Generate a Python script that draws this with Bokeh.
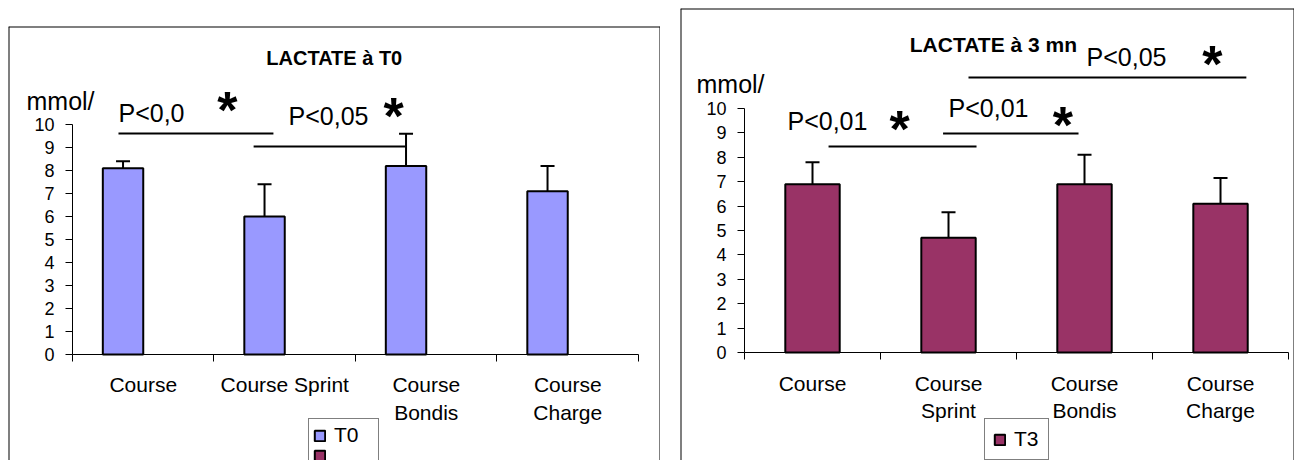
from bokeh.plotting import figure
from bokeh.models import (ColumnDataSource, Whisker, TeeHead, Label, Legend, LegendItem,
                          FixedTicker, Range1d, Spacer, Span)
from bokeh.layouts import row, column
from bokeh.embed import file_html
from bokeh.resources import INLINE

# ---------------- data ----------------
categories = ["Course", "Course Sprint", "Course Bondis", "Course Charge"]
tick_labels_t0 = ["Course", "Course Sprint", "Course\nBondis", "Course\nCharge"]
tick_labels_t3 = ["Course", "Course\nSprint", "Course\nBondis", "Course\nCharge"]
t0_mean = [8.1, 6.0, 8.2, 7.1]
t0_upper = [8.4, 7.4, 9.6, 8.2]
t0_chart_t3_mean = [float("nan")] * 4   # empty second series of the T0 chart
t3_mean = [6.9, 4.7, 6.9, 6.1]
t3_upper = [7.8, 5.75, 8.1, 7.15]
y_ticks = list(range(0, 11))

# significance annotations: (text, text_x, text_y, star_x, star_y, x0, x1, line_y)
t0_sig = [
    ("P<0,0", 0.325, 10.48, 1.095, 10.65, 0.325, 1.42, 9.61),
    ("P<0,05", 1.527, 10.35, 2.27, 10.39, 1.28, 2.35, 9.04),
]
t3_sig = [
    ("P<0,01", 0.316, 9.47, 1.14, 9.14, 0.618, 1.706, 8.44),
    ("P<0,01", 1.50, 10.0, 2.34, 9.34, 1.46, 2.456, 8.98),
    ("P<0,05", 2.515, 12.09, 3.44, 11.82, 1.647, 3.69, 11.27),
]

FONT = "Liberation Sans"
C_T0 = "#9999FF"
C_T3 = "#993366"


def build(width, height, xr, yr, means, uppers, labels, color, bar_w, offset,
          title, title_size, title_xy, unit_xy, sig, legend_items, legend_loc,
          legend_pad, legend_label_w, legend_spacing):
    p = figure(width=width, height=height, x_range=Range1d(*xr), y_range=Range1d(*yr),
               output_backend="svg", toolbar_location=None,
               min_border_left=0, min_border_right=0, min_border_top=0,
               min_border_bottom=0)
    p.xgrid.visible = False
    p.ygrid.visible = False
    p.outline_line_color = None
    p.background_fill_color = "white"
    p.border_fill_color = "white"

    # panel border (left, right, top edges of the chart area)
    for loc, dim in ((xr[0], "height"), (xr[1], "height"), (yr[1], "width")):
        p.add_layout(Span(location=loc, dimension=dim, line_color="black", line_width=2))

    xs = [i + 0.5 + offset for i in range(len(categories))]
    src = ColumnDataSource(dict(x=xs, top=means, upper=uppers, cat=categories))
    r = p.vbar(x="x", top="top", width=bar_w, source=src, fill_color=color,
               line_color="black", line_width=2)
    wh = Whisker(base="x", upper="upper", lower="top", source=src, lower_head=None,
                 upper_head=TeeHead(size=14, line_width=2, line_color="black"),
                 line_width=2, line_color="black")
    p.add_layout(wh)

    # y axis
    ya = p.yaxis[0]
    ya.fixed_location = 0
    ya.ticker = FixedTicker(ticks=y_ticks, minor_ticks=[])
    ya.bounds = (0, 10)
    ya.major_tick_out = 7
    ya.major_tick_in = 0
    ya.minor_tick_out = 0
    ya.major_label_standoff = 11
    ya.major_label_text_font = FONT
    ya.major_label_text_font_size = "18px"
    ya.major_label_text_color = "black"
    ya.axis_line_color = "black"
    ya.major_tick_line_color = "black"

    # x axis: labels at category centres, ticks at boundaries
    xa = p.xaxis[0]
    xa.fixed_location = 0
    xa.bounds = (0, len(categories))
    xa.ticker = FixedTicker(ticks=[i + 0.5 for i in range(len(categories))],
                            minor_ticks=list(range(len(categories) + 1)))
    xa.major_label_overrides = {i + 0.5: lab for i, lab in enumerate(labels)}
    xa.major_tick_out = 0
    xa.major_tick_in = 0
    xa.minor_tick_out = 7
    xa.minor_tick_in = 0
    xa.minor_tick_line_color = "black"
    xa.major_label_standoff = 12
    xa.major_label_text_font = FONT
    xa.major_label_text_font_size = "21px"
    xa.major_label_text_color = "black"
    xa.axis_line_color = "black"

    p.add_layout(Label(x=title_xy[0], y=title_xy[1], text=title, text_align="center",
                       text_baseline="middle", text_font=FONT, text_font_style="bold",
                       text_font_size=title_size, text_color="black"))
    p.add_layout(Label(x=unit_xy[0], y=unit_xy[1], text="mmol/", text_align="left",
                       text_baseline="middle", text_font=FONT, text_font_size="25px",
                       text_color="black"))

    for (txt, tx, ty, sx, sy, x0, x1, ly) in sig:
        p.add_layout(Label(x=tx, y=ty, text=txt, text_align="left", text_baseline="middle",
                           text_font=FONT, text_font_size="25px", text_color="black"))
        p.add_layout(Label(x=sx, y=sy, text="*", text_align="center",
                           text_baseline="alphabetic", text_font=FONT,
                           text_font_style="bold", text_font_size="52px",
                           text_color="black"))
        p.segment(x0=[x0], y0=[ly], x1=[x1], y1=[ly], line_color="black", line_width=2)

    items = []
    for lab, col, extra in legend_items:
        if extra is None:
            rr = r
        else:
            esrc = ColumnDataSource(dict(x=[i + 0.5 + offset + bar_w
                                            for i in range(len(categories))],
                                         top=extra))
            rr = p.vbar(x="x", top="top", width=bar_w, source=esrc, fill_color=col,
                        line_color="black", line_width=2)
        items.append(LegendItem(label=lab, renderers=[rr]))
    leg = Legend(items=items, location=legend_loc, padding=legend_pad,
                 spacing=legend_spacing,
                 margin=0, glyph_width=13, glyph_height=13, label_height=16,
                 label_width=legend_label_w,
                 label_standoff=8, label_text_font=FONT,
                 label_text_font_size="21px",
                 label_text_color="black", border_line_color="black",
                 border_line_width=1, background_fill_color="white",
                 background_fill_alpha=1.0)
    p.add_layout(leg)
    return p


# left chart: 141.5 px per category, 23 px per mmol
w0 = 1.0 / (2 + 1.5)   # two series per cluster, gap width 150 %
p1 = build(652, 434, (-0.4523, 4.1555), (-4.609, 14.261), t0_mean, t0_upper,
           tick_labels_t0, C_T0, w0, -w0 / 2, "LACTATE à T0", "20px", (1.85, 12.91),
           (-0.325, 11.04), t0_sig,
           [("T0", C_T0, None), (" ", C_T3, t0_chart_t3_mean)], (300, -8), 4, 40, -6)

# right chart: 136 px per category, 24.4 px per mmol
w3 = 1.0 / (1 + 1.5)
p2 = build(614, 452, (-0.4706, 4.044), (-4.426, 14.098), t3_mean, t3_upper,
           tick_labels_t3, C_T3, w3, 0.0, "LACTATE à 3 mn", "21px", (1.83, 12.62),
           (-0.353, 11.02), t3_sig, [("T3", C_T3, None)], (304, 0), 8, 26, 0)

layout = row(Spacer(width=8, height=10),
             column(Spacer(width=652, height=26), p1),
             Spacer(width=20, height=10),
             column(Spacer(width=614, height=8), p2))

open("out.html", "w").write(file_html(layout, INLINE))
